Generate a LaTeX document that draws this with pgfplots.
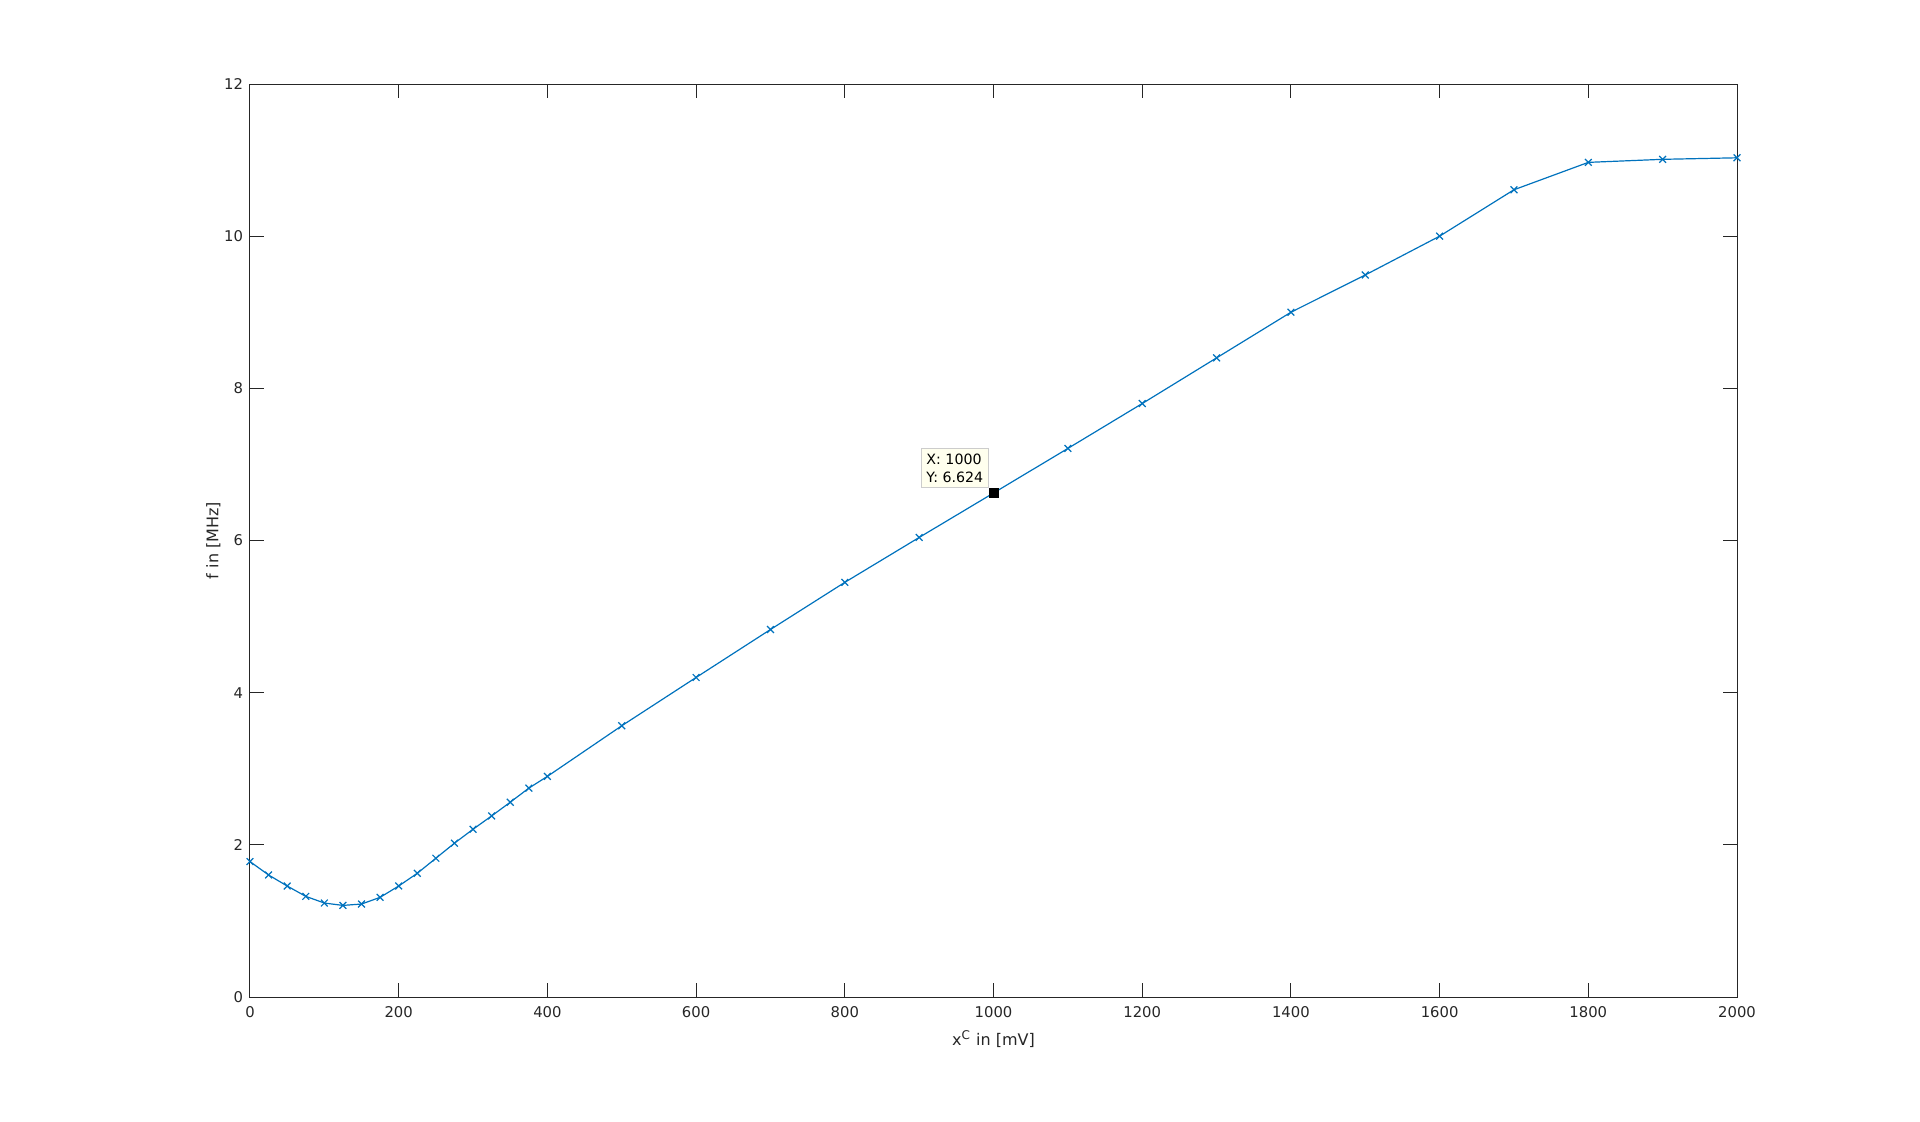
\documentclass[border=0pt]{standalone}
\usepackage{fontspec}
\setmainfont{DejaVu Sans}
\usepackage{pgfplots}
\pgfplotsset{compat=1.18}

\definecolor{mblue}{rgb}{0,0.447,0.741}
\definecolor{axgray}{rgb}{0.15,0.15,0.15}
\definecolor{tipbg}{RGB}{255,255,238}

\begin{document}
\begin{tikzpicture}
\begin{axis}[
    scale only axis,
    width=743.5pt, height=456.5pt,
    xmin=0, xmax=2000, ymin=0, ymax=12,
    xtick={0,200,...,2000},
    ytick={0,2,...,12},
    tick align=inside,
    major tick length=7pt,
    axis line style={axgray, line width=0.5pt},
    every tick/.style={axgray, line width=0.5pt},
    tick label style={font=\fontsize{7.4}{9}\selectfont, text=axgray},
    xticklabel style={yshift=-1pt},
    /pgf/number format/assume math mode=true,
    /pgf/number format/1000 sep={},
    xlabel={x\textsuperscript{C} in [mV]},
    ylabel={f in [MHz]},
    ylabel shift=-5pt,
    label style={font=\fontsize{8}{10}\selectfont, text=axgray},
    clip=false,
]
\addplot[mblue, line width=0.6pt, mark=x, mark size=2.4pt] coordinates {
    (0,1.78) (25,1.604) (50,1.459) (75,1.323) (100,1.235) (125,1.204)
    (150,1.222) (175,1.310) (200,1.459) (225,1.626) (250,1.824)
    (275,2.022) (300,2.205) (325,2.38) (350,2.56) (375,2.745)
    (400,2.90) (500,3.565) (600,4.20) (700,4.83) (800,5.45)
    (900,6.04) (1000,6.624) (1100,7.21) (1200,7.80) (1300,8.40)
    (1400,9.00) (1500,9.49) (1600,10.00) (1700,10.61) (1800,10.97)
    (1900,11.01) (2000,11.03)
};
\addplot[only marks, mark=square*, mark size=2.25pt, black,
    nodes near coords={X: 1000\\Y: 6.624},
    every node near coord/.append style={
        anchor=south east, align=left, xshift=-2.5pt, yshift=2.5pt,
        fill=tipbg, draw=black!20, line width=0.5pt, text=black,
        font=\fontsize{7.1}{9.2}\selectfont, inner sep=2.4pt}
] coordinates {(1000,6.624)};
\end{axis}
\path[use as bounding box] (-125pt,-62pt) rectangle (835pt,498.5pt);
\end{tikzpicture}
\end{document}
